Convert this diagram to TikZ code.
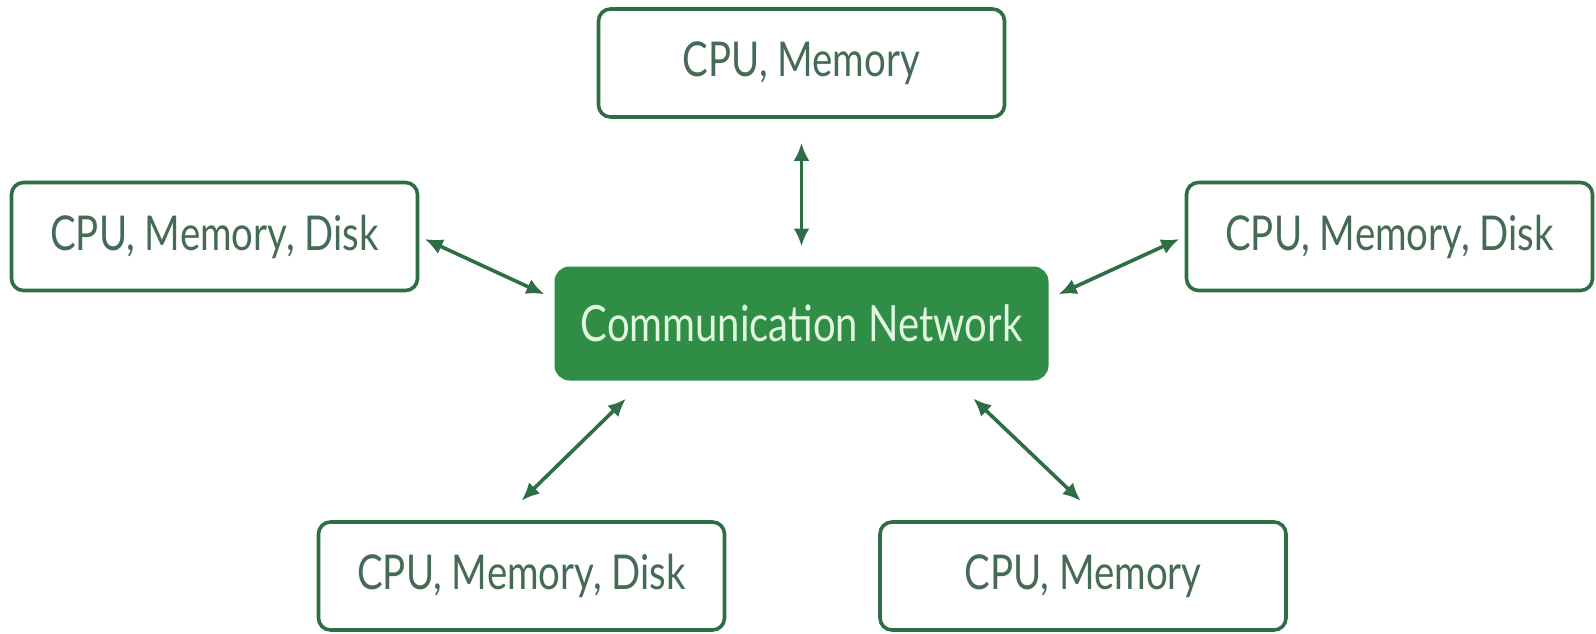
\documentclass[tikz,border=0pt]{standalone}
\usepackage{fontspec}
\setmainfont{Lato}[FakeStretch=0.8]
\usetikzlibrary{arrows.meta}
\definecolor{gfgreen}{HTML}{2F8D46}
\definecolor{boxline}{HTML}{2E6E45}
\definecolor{boxtext}{HTML}{466B55}
\definecolor{nettext}{HTML}{E2F7DF}
\tikzset{
  unit/.style={draw=boxline, line width=1.8pt, rounded corners=6pt, fill=white,
    text=boxtext, minimum width=203pt, minimum height=54pt, inner sep=0pt,
    font=\fontsize{24}{28}\selectfont},
  netbox/.style={draw=gfgreen, fill=gfgreen, line width=1pt, rounded corners=7pt,
    text=nettext, minimum width=246pt, minimum height=56pt, inner sep=0pt,
    font=\fontsize{25}{29}\selectfont},
  link/.style={{Latex[length=9pt,width=8pt]}-{Latex[length=9pt,width=8pt]},
    line width=1.8pt, draw=boxline}
}
\begin{document}
\begin{tikzpicture}[x=0.5pt,y=-0.5pt]
  \useasboundingbox (0,0) rectangle (1596,633);
  %% network
  \node[netbox] (net) at (801.5,323.5) {Communication Network};
  %% machines
  \node[unit] (mtop) at (801.5,63) {CPU, Memory};
  \node[unit] (dleft) at (214.5,236.5) {CPU, Memory, Disk};
  \node[unit] (dright) at (1389.5,236.5) {CPU, Memory, Disk};
  \node[unit] (dbot) at (521.5,576) {CPU, Memory, Disk};
  \node[unit] (mbot) at (1083,576) {CPU, Memory};
  %% links
  \draw[link,shorten <=12pt,shorten >=10pt] (mtop.south) -- (net.north);
  \draw[link,shorten <=3pt,shorten >=5pt] (dleft.east) -- ([shift={(-1,-25)}]net.west);
  \draw[link,shorten <=3pt,shorten >=5pt] (dright.west) -- ([shift={(1,-25)}]net.east);
  \draw[link,shorten <=13pt,shorten >=14pt] ([shift={(-157,0)}]net.south) -- ([shift={(-20,0)}]dbot.north);
  \draw[link,shorten <=13pt,shorten >=14pt] ([shift={(153,0)}]net.south) -- ([shift={(18,0)}]mbot.north);
\end{tikzpicture}
\end{document}
